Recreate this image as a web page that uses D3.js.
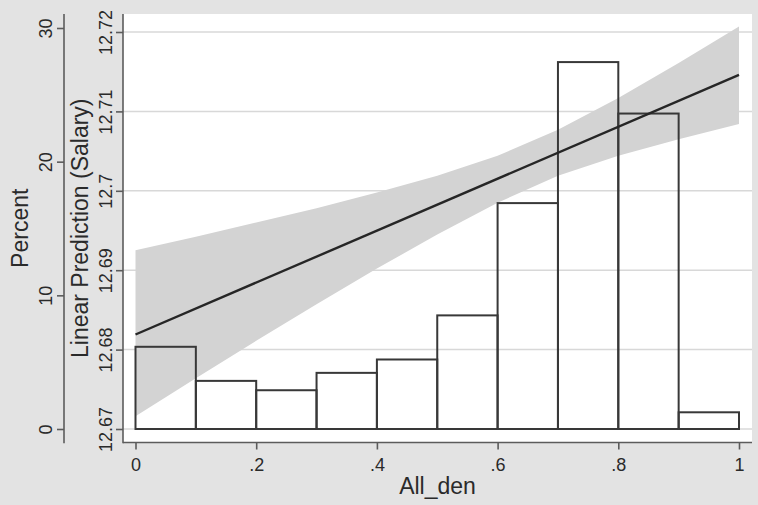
<!DOCTYPE html>
<html>
<head>
<meta charset="utf-8">
<script src="https://cdn.jsdelivr.net/npm/d3@7"></script>
<style>
  html, body { margin: 0; padding: 0; background: #e3e3e3; }
  text { font-family: "Liberation Sans", Arial, Helvetica, sans-serif; fill: #2a2a2a; }
</style>
</head>
<body>
<div id="container"></div>
<script>
// histogram of All_den (bins of width .1), in percent
var binLo = [0, 0.1, 0.2, 0.3, 0.4, 0.5, 0.6, 0.7, 0.8, 0.9];
var binHi = [0.1, 0.2, 0.3, 0.4, 0.5, 0.6, 0.7, 0.8, 0.9, 1];
var percent = [6.15, 3.6, 2.9, 4.2, 5.2, 8.5, 16.9, 27.45, 23.6, 1.25];

// linear fit of Salary on All_den and its confidence band
var fitX = [0, 1];
var fitY = [12.6819, 12.7146];
var ciX = [0, 0.1, 0.2, 0.3, 0.4, 0.5, 0.6, 0.7, 0.8, 0.9, 1];
var ciUpper = [12.6925, 12.6942, 12.6960, 12.6978, 12.6998, 12.7019, 12.7044, 12.7077, 12.7117, 12.7161, 12.7207];
var ciLower = [12.6716, 12.6764, 12.6811, 12.6857, 12.6902, 12.6945, 12.6985, 12.7019, 12.7044, 12.7065, 12.7084];

// tick labels
var xTicks = [0, 0.2, 0.4, 0.6, 0.8, 1];
var pctTicks = [0, 10, 20, 30];
var salTicks = [12.67, 12.68, 12.69, 12.7, 12.71, 12.72];

(function () {
  var width = 758,
      height = 505;

  // plot region (white)
  var plotLeft = 123,
      plotRight = 752,
      plotTop = 14,
      plotBottom = 442.5;

  var svg = d3.select("#container").append("svg")
      .attr("width", width).attr("height", height);

  svg.append("rect").attr("width", width).attr("height", height).attr("fill", "#e3e3e3");

  var x = d3.scaleLinear().domain([0, 1]).range([135.5, 739]);
  var yPct = d3.scaleLinear().domain([0, 30]).range([429, 28]);
  var ySal = d3.scaleLinear().domain([12.67, 12.72]).range([429, 32]);

  svg.append("rect")
      .attr("x", plotLeft).attr("y", plotTop)
      .attr("width", plotRight - plotLeft).attr("height", plotBottom - plotTop)
      .attr("fill", "#ffffff");

  // gridlines
  svg.selectAll(".grid").data(salTicks).enter().append("line")
      .attr("class", "grid")
      .attr("x1", plotLeft).attr("x2", plotRight)
      .attr("y1", function (d) { return ySal(d); })
      .attr("y2", function (d) { return ySal(d); })
      .attr("stroke", "#d8d8d8").attr("stroke-width", 1.5);

  // CI band
  var band = d3.area()
      .x(function (d, i) { return x(ciX[i]); })
      .y0(function (d, i) { return ySal(ciLower[i]); })
      .y1(function (d, i) { return ySal(ciUpper[i]); });

  svg.append("path").datum(ciX).attr("d", band).attr("fill", "#d3d3d3");

  // histogram bars
  svg.selectAll(".bar").data(percent).enter().append("rect")
      .attr("class", "bar")
      .attr("x", function (d, i) { return x(binLo[i]); })
      .attr("width", function (d, i) { return x(binHi[i]) - x(binLo[i]); })
      .attr("y", function (d) { return yPct(d); })
      .attr("height", function (d) { return yPct(0) - yPct(d); })
      .attr("fill", "none").attr("stroke", "#383838").attr("stroke-width", 2);

  // fitted line
  var line = d3.line()
      .x(function (d, i) { return x(fitX[i]); })
      .y(function (d, i) { return ySal(fitY[i]); });

  svg.append("path").datum(fitX).attr("d", line)
      .attr("fill", "none").attr("stroke", "#262626").attr("stroke-width", 2.4);

  // axes
  function styleAxis(g) {
    g.select(".domain").remove();
    g.selectAll(".tick line").attr("stroke", "#5c5c5c").attr("stroke-width", 1.6);
    g.selectAll("text").attr("fill", "#2a2a2a").style("font-size", "18px")
        .style("font-family", "'Liberation Sans', Arial, Helvetica, sans-serif");
  }

  var fmtX = function (d) { return d === 0 || d === 1 ? String(d) : String(d).replace(/^0/, ""); };

  var gx = svg.append("g").attr("transform", "translate(0," + plotBottom + ")")
      .call(d3.axisBottom(x).tickValues(xTicks).tickFormat(fmtX).tickSize(7).tickSizeOuter(0));
  styleAxis(gx);
  gx.selectAll("text").attr("y", 28.5).attr("dy", null);

  var gPct = svg.append("g").attr("transform", "translate(64,0)")
      .call(d3.axisLeft(yPct).tickValues(pctTicks).tickFormat(d3.format("d")).tickSize(7).tickSizeOuter(0));
  styleAxis(gPct);
  gPct.selectAll("text").attr("x", 0).attr("dy", null).attr("y", -12)
      .attr("transform", "rotate(-90)").style("text-anchor", "middle");

  var gSal = svg.append("g").attr("transform", "translate(" + plotLeft + ",0)")
      .call(d3.axisLeft(ySal).tickValues(salTicks).tickFormat(function (d) { return String(+d.toFixed(2)); }).tickSize(7).tickSizeOuter(0));
  styleAxis(gSal);
  gSal.selectAll("text").attr("x", 0).attr("dy", null).attr("y", -11)
      .attr("transform", "rotate(-90)").style("text-anchor", "middle");

  // axis lines
  svg.append("line").attr("x1", 64).attr("x2", 64).attr("y1", plotTop).attr("y2", plotBottom + 0.8)
      .attr("stroke", "#5c5c5c").attr("stroke-width", 1.6);
  svg.append("line").attr("x1", plotLeft).attr("x2", plotLeft).attr("y1", plotTop).attr("y2", plotBottom + 0.8)
      .attr("stroke", "#5c5c5c").attr("stroke-width", 1.6);
  svg.append("line").attr("x1", plotLeft).attr("x2", plotRight).attr("y1", plotBottom).attr("y2", plotBottom)
      .attr("stroke", "#5c5c5c").attr("stroke-width", 1.6);

  // titles
  var midY = (plotTop + plotBottom) / 2;
  svg.append("text").attr("transform", "translate(28," + midY + ") rotate(-90)")
      .attr("text-anchor", "middle").style("font-size", "23px").text("Percent");
  svg.append("text").attr("transform", "translate(88," + midY + ") rotate(-90)")
      .attr("text-anchor", "middle").style("font-size", "23px").text("Linear Prediction (Salary)");
  svg.append("text").attr("x", (plotLeft + plotRight) / 2).attr("y", 494)
      .attr("text-anchor", "middle").style("font-size", "23px").text("All_den");
})();
</script>
</body>
</html>
